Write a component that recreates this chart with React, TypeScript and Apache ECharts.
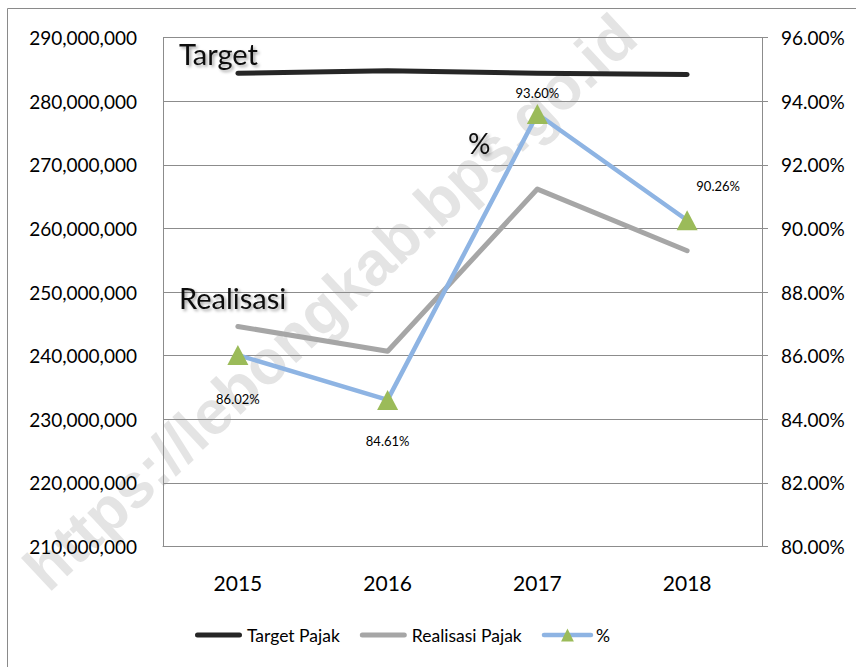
import React, { useEffect, useRef } from "react";
import * as echarts from "echarts";

const years = ["2015", "2016", "2017", "2018"];
const targetPajak = [284400000, 284800000, 284400000, 284200000];
const realisasiPajak = [244600000, 240700000, 266200000, 256500000];
const persen = [86.02, 84.61, 93.6, 90.26];
const persenLabelOffsets: [number, number][] = [
  [0, 44],
  [0, 41],
  [0, -21],
  [31, -34],
];

const FONT = "Lato, 'Open Sans', sans-serif";

function fmtInt(v: number) {
  return Math.round(v).toString().replace(/\B(?=(\d{3})+(?!\d))/g, ",");
}

export default function App() {
  const ref = useRef<HTMLDivElement>(null);
  useEffect(() => {
    if (!ref.current) return;
    const chart = echarts.init(ref.current, null, { renderer: "svg" });
    const gridColor = "#8c8c8c";
    const shadowText = {
      fill: "#111",
      fontFamily: FONT,
      textShadowColor: "rgba(0,0,0,0.35)",
      textShadowBlur: 3,
      textShadowOffsetX: 2,
      textShadowOffsetY: 2,
    };
    const barIcon = "path://M2.5 0H44.5A2.5 2.5 0 0 1 44.5 5H2.5A2.5 2.5 0 0 1 2.5 0Z";
    chart.setOption({
      animation: false,
      backgroundColor: "#ffffff",
      textStyle: { fontFamily: FONT },
      grid: { left: 163, right: 94, top: 37.7, bottom: 120.5, containLabel: false },
      xAxis: {
        type: "category",
        data: years,
        boundaryGap: true,
        axisLine: { show: true, lineStyle: { color: gridColor, width: 1 } },
        axisTick: { show: false },
        axisLabel: { color: "#000", fontSize: 21, margin: 25, fontFamily: FONT },
        splitLine: { show: false },
      },
      yAxis: [
        {
          type: "value",
          min: 210000000,
          max: 290000000,
          interval: 10000000,
          axisLine: { show: true, lineStyle: { color: gridColor, width: 1 } },
          axisTick: { show: false },
          axisLabel: {
            color: "#000",
            fontSize: 19,
            margin: 26,
            fontFamily: FONT,
            formatter: (v: number) => fmtInt(v),
          },
          splitLine: { show: true, lineStyle: { color: gridColor, width: 1 } },
        },
        {
          type: "value",
          position: "right",
          min: 80,
          max: 96,
          interval: 2,
          axisLine: { show: true, lineStyle: { color: gridColor, width: 1 } },
          axisTick: { show: true, inside: false, length: 6, lineStyle: { color: gridColor } },
          axisLabel: {
            color: "#000",
            fontSize: 19,
            margin: 19,
            fontFamily: FONT,
            formatter: (v: number) => v.toFixed(2) + "%",
          },
          splitLine: { show: false },
        },
      ],
      legend: {
        left: 190,
        top: 621,
        itemWidth: 47,
        itemHeight: 16,
        itemGap: 20,
        textStyle: { color: "#000", fontSize: 17.5, fontFamily: FONT },
        lineStyle: { width: "inherit" },
        data: [
          { name: "Target Pajak", icon: barIcon },
          { name: "Realisasi Pajak", icon: barIcon },
          { name: "%" },
        ],
      },
      graphic: [
        {
          type: "text",
          x: 330,
          y: 302,
          rotation: 0.75,
          z: -10,
          style: {
            text: "https://lebongkab.bps.go.id",
            fill: "#e4e4e4",
            font: "bold 62px 'Liberation Sans', Arial, sans-serif",
            textAlign: "center",
            textVerticalAlign: "middle",
          },
        },
        {
          type: "rect",
          shape: { x: 7.5, y: 8.5, width: 900, height: 700 },
          style: { fill: "none", stroke: "#8a8a8a", lineWidth: 1 },
          z: 1,
        },
        {
          type: "text",
          left: 179,
          top: 39,
          z: 10,
          style: { ...shadowText, text: "Target", fontSize: 29 },
        },
        {
          type: "text",
          left: 179,
          top: 283,
          z: 10,
          style: { ...shadowText, text: "Realisasi", fontSize: 29 },
        },
        {
          type: "text",
          left: 468,
          top: 129,
          z: 10,
          style: { ...shadowText, text: "%", fontSize: 28 },
        },
      ],
      series: [
        {
          name: "Target Pajak",
          type: "line",
          yAxisIndex: 0,
          data: targetPajak,
          symbol: "none",
          z: 3,
          lineStyle: { color: "#262626", width: 5, cap: "round", join: "round" },
          itemStyle: { color: "#262626" },
        },
        {
          name: "Realisasi Pajak",
          type: "line",
          yAxisIndex: 0,
          data: realisasiPajak,
          symbol: "none",
          z: 3,
          lineStyle: { color: "#A6A6A6", width: 5, cap: "round", join: "round" },
          itemStyle: { color: "#A6A6A6" },
        },
        {
          name: "%",
          type: "line",
          yAxisIndex: 1,
          z: 4,
          data: persen.map((v, i) => ({
            value: v,
            label: { offset: persenLabelOffsets[i] },
          })),
          symbol: "triangle",
          symbolSize: [21, 20],
          showAllSymbol: true,
          lineStyle: { color: "#8EB4E3", width: 4.5, cap: "round", join: "round" },
          itemStyle: { color: "#9BBB59" },
          label: {
            show: true,
            position: "inside",
            color: "#000",
            fontSize: 13,
            fontFamily: FONT,
            formatter: (p: any) => p.value.toFixed(2) + "%",
          },
        },
      ],
    });
    return () => chart.dispose();
  }, []);
  return (
    <div
      ref={ref}
      style={{ position: "absolute", left: 0, top: 0, width: 856, height: 667 }}
    />
  );
}
